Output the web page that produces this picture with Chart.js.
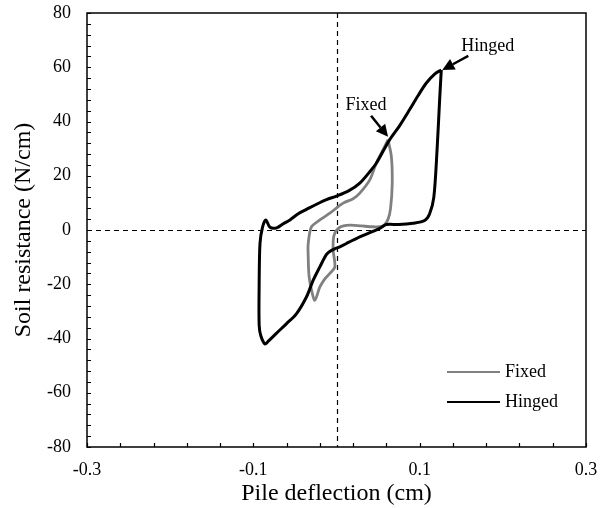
<!DOCTYPE html>
<html>
<head>
<meta charset="utf-8">
<script src="https://cdn.jsdelivr.net/npm/chart.js@4/dist/chart.umd.min.js"></script>
<style>
  html, body { margin: 0; padding: 0; background: #fff; }
  #wrap { width: 608px; height: 508px; }
</style>
</head>
<body>
<div id="wrap"><canvas id="c" width="608" height="508"></canvas></div>
<script>
// pile deflection (cm) / soil resistance (N/cm)
const hingedX = [0.126, 0.124, 0.121, 0.117, 0.112, 0.106, 0.092, 0.075, 0.060, 0.052, 0.040, 0.028, 0.015, 0.004, -0.006,
  -0.012, -0.020, -0.028, -0.036, -0.048, -0.060, -0.072, -0.082, -0.086, -0.091, -0.093, -0.093, -0.092, -0.089, -0.085,
  -0.080, -0.072, -0.064, -0.056, -0.046, -0.036, -0.024, -0.012, 0.000, 0.015, 0.028, 0.040, 0.048, 0.056, 0.064,
  0.076, 0.088, 0.098, 0.108, 0.118, 0.126];
const hingedY = [59, 48, 30, 12, 6, 3.5, 2.5, 2, 2, 0.6, -1, -2.5, -4.5, -6.2, -7.5,
  -9, -13.6, -18.5, -24.6, -30.8, -34.5, -38, -41, -42, -39, -35, -20, -5, 1, 3.7,
  1, 0.8, 2.3, 3.7, 6, 7.6, 9.5, 11.2, 12.5, 14.5, 17.3, 21.5, 24.7, 29, 33.3,
  38.5, 44.4, 49.5, 54.2, 57.5, 59];

const fixedX = [0.062, 0.066, 0.067, 0.065, 0.062, 0.056, 0.044, 0.030, 0.016, 0.004, -0.003, -0.004, -0.002, -0.008,
  -0.014, -0.020, -0.026, -0.030, -0.033, -0.034, -0.034, -0.030, -0.020, -0.008, 0.008, 0.020, 0.028, 0.040, 0.048,
  0.056, 0.062];
const fixedY = [33.3, 27, 17, 8, 4, 1.5, 1.2, 1.5, 1.8, 1, -2, -7.4, -13.6, -16,
  -18, -21, -25.9, -22.2, -17, -10, -4.9, 1.2, 3.7, 6.2, 9.9, 11.5, 13.6, 18.5, 24.7,
  29.6, 33.3];

const xLabels = [-0.3, -0.1, 0.1, 0.3];
const yLabels = [-80, -60, -40, -20, 0, 20, 40, 60, 80];
const xMinorStep = 0.04;
const yMinorStep = 4;

// annotation text and the point each arrow touches
const notes = [
  { text: 'Fixed', x: 0.062, y: 34 },
  { text: 'Hinged', x: 0.126, y: 59 }
];

const serif = '"Liberation Serif", "Times New Roman", serif';

function pts(xs, ys) {
  return xs.map((v, i) => ({ x: v, y: ys[i] }));
}

const data = {
  datasets: [
    {
      label: 'Fixed',
      data: pts(fixedX, fixedY),
      borderColor: '#808080',
      borderWidth: 2.8,
      showLine: true,
      pointRadius: 0,
      tension: 0.3,
      order: 2
    },
    {
      label: 'Hinged',
      data: pts(hingedX, hingedY),
      borderColor: '#000000',
      borderWidth: 3,
      showLine: true,
      pointRadius: 0,
      tension: 0.3,
      order: 1
    }
  ]
};

function arrow(ctx, x0, y0, x1, y1) {
  const ang = Math.atan2(y1 - y0, x1 - x0);
  const L = 12, W = 6;
  ctx.beginPath();
  ctx.moveTo(x0, y0);
  ctx.lineTo(x1 - L * Math.cos(ang), y1 - L * Math.sin(ang));
  ctx.lineWidth = 2.5;
  ctx.stroke();
  ctx.beginPath();
  ctx.moveTo(x1, y1);
  ctx.lineTo(x1 - L * Math.cos(ang) + W * Math.sin(ang), y1 - L * Math.sin(ang) - W * Math.cos(ang));
  ctx.lineTo(x1 - L * Math.cos(ang) - W * Math.sin(ang), y1 - L * Math.sin(ang) + W * Math.cos(ang));
  ctx.closePath();
  ctx.fill();
}

const zeroLines = {
  id: 'zeroLines',
  beforeDatasetsDraw(chart) {
    const { ctx, chartArea: a, scales: { x, y } } = chart;
    ctx.save();
    ctx.strokeStyle = '#000';
    ctx.lineWidth = 1.2;
    ctx.setLineDash([5, 4]);
    const x0 = Math.round(x.getPixelForValue(0)) + 0.5;
    const y0 = Math.round(y.getPixelForValue(0)) + 0.5;
    ctx.beginPath();
    ctx.moveTo(x0, a.top); ctx.lineTo(x0, a.bottom);
    ctx.moveTo(a.left, y0); ctx.lineTo(a.right, y0);
    ctx.stroke();
    ctx.restore();
  }
};

const frame = {
  id: 'frame',
  afterDraw(chart) {
    const { ctx, chartArea: a, scales: { x, y } } = chart;
    ctx.save();
    ctx.strokeStyle = '#000';
    ctx.fillStyle = '#000';
    ctx.lineWidth = 1.5;
    ctx.strokeRect(a.left, a.top, a.right - a.left, a.bottom - a.top);

    // inner ticks
    ctx.lineWidth = 1.2;
    ctx.beginPath();
    for (let v = x.min; v <= x.max + 1e-9; v += xMinorStep) {
      const px = Math.round(x.getPixelForValue(v)) + 0.5;
      ctx.moveTo(px, a.bottom); ctx.lineTo(px, a.bottom - 4);
    }
    for (let v = y.min; v <= y.max + 1e-9; v += yMinorStep) {
      const py = Math.round(y.getPixelForValue(v)) + 0.5;
      ctx.moveTo(a.left, py); ctx.lineTo(a.left + 4, py);
    }
    ctx.stroke();

    // annotations
    ctx.font = '18px ' + serif;
    ctx.textBaseline = 'middle';
    const f = notes[0], h = notes[1];
    let tx = x.getPixelForValue(f.x), ty = y.getPixelForValue(f.y);
    ctx.textAlign = 'center';
    ctx.fillText(f.text, tx - 22, ty - 33);
    arrow(ctx, tx - 17, ty - 22, tx, ty - 1);
    tx = x.getPixelForValue(h.x); ty = y.getPixelForValue(h.y);
    ctx.textAlign = 'left';
    ctx.fillText(h.text, tx + 20, ty - 24);
    arrow(ctx, tx + 27, ty - 14, tx + 1, ty);

    // legend
    ctx.textAlign = 'left';
    chart.data.datasets.forEach((ds, i) => {
      const ly = a.bottom - 75 + i * 30;
      ctx.strokeStyle = ds.borderColor;
      ctx.lineWidth = 1.8;
      ctx.beginPath();
      ctx.moveTo(447, ly); ctx.lineTo(500, ly);
      ctx.stroke();
      ctx.fillStyle = '#000';
      ctx.fillText(ds.label, 505, ly);
    });
    ctx.restore();
  }
};

new Chart(document.getElementById('c'), {
  type: 'scatter',
  data,
  options: {
    responsive: false,
    animation: false,
    layout: { padding: { top: 13, right: 22, left: 0, bottom: 0 } },
    plugins: { legend: { display: false }, tooltip: { enabled: false } },
    scales: {
      x: {
        min: -0.3, max: 0.3,
        afterBuildTicks: s => { s.ticks = xLabels.map(v => ({ value: v })); },
        afterFit: s => { s.height = 61; s.paddingLeft = 0; s.paddingRight = 0; },
        grid: { display: false, drawTicks: false },
        border: { display: false },
        ticks: {
          color: '#000', padding: 12, maxRotation: 0, autoSkip: false,
          font: { family: serif, size: 18 },
          callback: v => String(Math.round(v * 10) / 10)
        },
        title: { display: true, text: 'Pile deflection (cm)', color: '#000', font: { family: serif, size: 24 }, padding: { top: 0, bottom: 0 } }
      },
      y: {
        min: -80, max: 80,
        afterBuildTicks: s => { s.ticks = yLabels.map(v => ({ value: v })); },
        afterFit: s => { s.width = 87; s.paddingTop = 0; s.paddingBottom = 0; },
        grid: { display: false, drawTicks: false },
        border: { display: false },
        ticks: {
          color: '#000', padding: 16, autoSkip: false,
          font: { family: serif, size: 18 }
        },
        title: { display: true, text: 'Soil resistance (N/cm)', color: '#000', font: { family: serif, size: 24 }, padding: { top: 9, bottom: 0 } }
      }
    }
  },
  plugins: [zeroLines, frame]
});
</script>
</body>
</html>
